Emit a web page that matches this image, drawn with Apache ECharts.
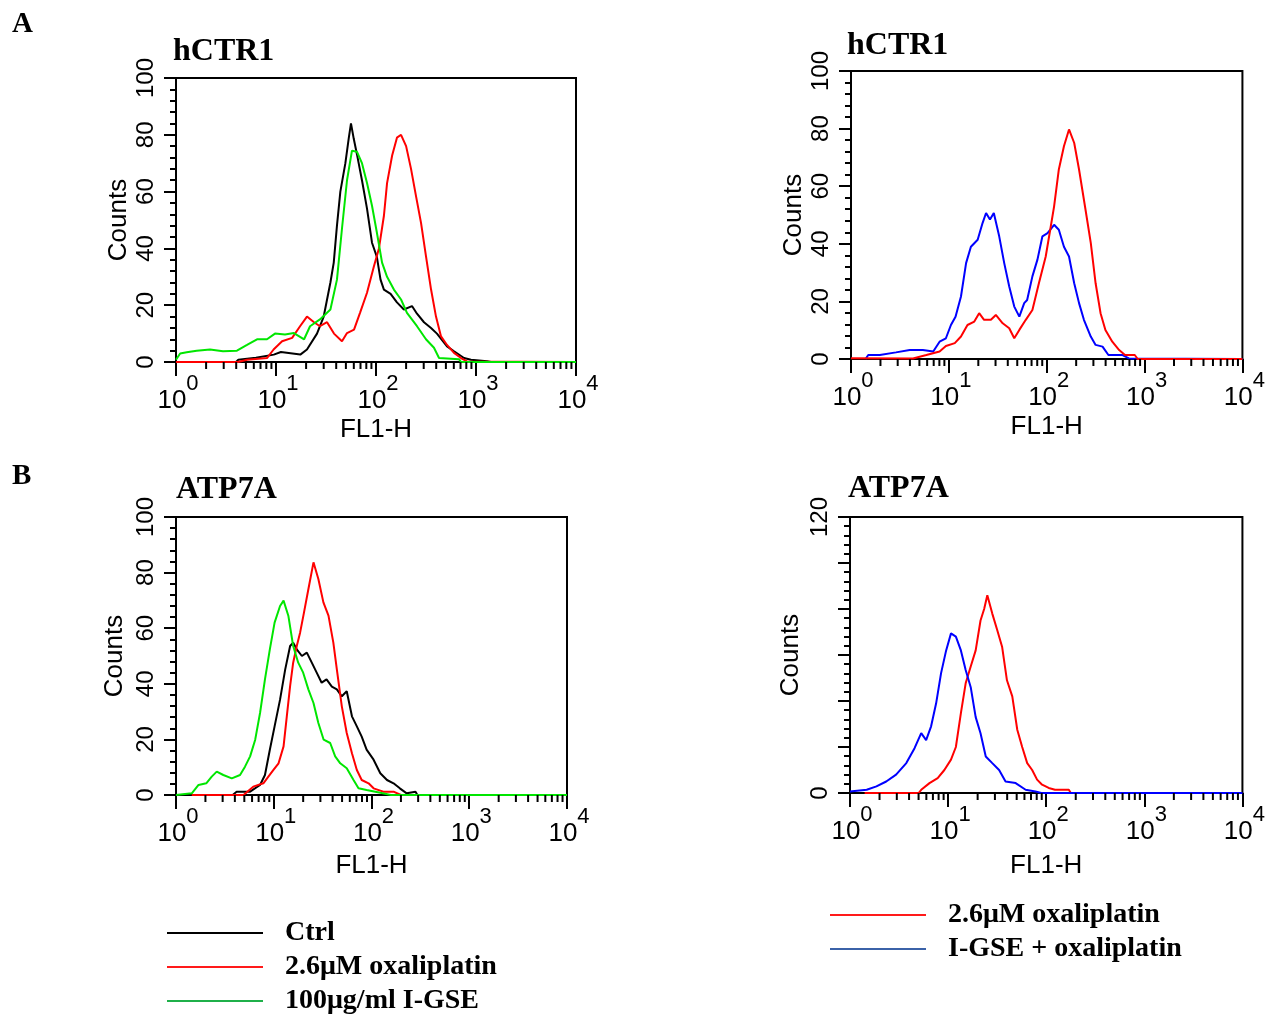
<!DOCTYPE html>
<html>
<head>
<meta charset="utf-8">
<script src="https://cdn.jsdelivr.net/npm/echarts@6/dist/echarts.min.js"></script>
<style>html,body{margin:0;padding:0;background:#fff;}#c{width:1268px;height:1015px;}</style>
</head>
<body>
<div id="c"></div>
<script>
// ---------- DATA: [FL1-H, Counts] ----------
// Panel A left (hCTR1)
var hctr1L_ctrl = [[1,0],[3.98,0],[4.2,0.8],[6.3,1.5],[9.5,2.6],[11.2,3.5],[17.5,2.6],[20.4,4.4],[25.7,10],[30,16],[35,28],[37.8,35],[40.7,48],[44,60],[49.4,70],[53.5,79],[56.2,84],[60,78.5],[64.6,73],[72.4,64],[81.3,54],[91.2,42],[102,37],[111,29],[120,25.5],[140,24],[162,21],[190,18.5],[229,19.7],[257,17],[302,14],[355,12],[407,10],[513,5.5],[603,3.8],[759,1.4],[891,0.8],[1288,0.3],[1413,0],[10000,0]];
var hctr1L_oxa = [[1,0],[4.17,0],[5.13,0.8],[8.13,1.4],[9.46,4.4],[11.5,7.3],[14.5,8.5],[17.4,12.6],[20.4,16],[24,14],[27.5,12.6],[32.4,14],[38,10],[45.7,7.3],[51.3,10.2],[60.3,11.4],[69.2,17.3],[81.3,24.4],[95.5,33.8],[107,40],[120,51.5],[129,63],[145,72.7],[162,79],[178,80],[200,76],[224,68],[251,58.5],[282,49],[316,37.3],[355,25.6],[398,16],[447,9],[513,6],[603,3.2],[708,1.4],[813,0.2],[10000,0]];
var hctr1L_gse = [[1,0.8],[1.1,3],[1.28,3.4],[1.61,4],[2.19,4.4],[2.95,3.8],[4.07,4],[5.13,6],[6.46,8],[8.13,8],[9.77,10],[12.3,9.7],[15.1,10.2],[19.1,8],[21.9,12.6],[27.5,15],[35,18.5],[40.7,29],[45.7,47],[51.3,64],[57.5,74.4],[64.6,74],[72.4,70],[81.3,63],[91.2,55],[102,45.6],[115,35],[129,30],[151,25.5],[178,22],[204,17.3],[257,12.6],[316,8],[380,5],[427,1.4],[676,1],[708,0],[10000,0]];
// Panel A right (hCTR1)
var hctr1R_gseOxa = [[1.41,0],[1.5,1.4],[1.97,1.4],[2.88,2.3],[3.98,3.1],[5.43,3.1],[6.92,2.6],[8.04,6],[9.33,7.2],[10.5,11.8],[11.7,14.7],[13.3,21.7],[15,33.3],[16.8,39],[19.7,41.4],[22.1,47.2],[24,50.7],[26.3,48.4],[28.8,50.7],[32.7,42.6],[36.8,33.3],[41.4,25.2],[46.6,18.2],[52.5,14.7],[58.9,19.4],[63.1,20.5],[71.4,28.7],[80.4,34.5],[90.4,42.6],[102,43.7],[119,46.6],[133,44.9],[150,39],[169,35.6],[191,26.3],[214,19.4],[240,13.6],[282,7.8],[316,4.9],[372,4.3],[427,1.4],[589,1.4],[692,0.2],[10000,0]];
var hctr1R_oxa = [[1,0.3],[4.3,0.2],[5.89,1.4],[8.04,2.6],[9.33,4.5],[11.5,5.5],[13.3,7.8],[15.5,11.8],[18.2,13],[20.4,15.9],[22.9,13.6],[26.9,13.6],[30.2,15.3],[35.5,12.4],[41.4,10.7],[46.6,7.2],[52.5,10.1],[61.1,13.6],[71.4,17],[83.2,26.3],[97.7,35.6],[110,46],[119,53],[133,65.8],[150,73.9],[169,79.7],[191,75],[214,65.8],[249,51.9],[282,40.3],[316,26.3],[355,15.9],[398,10.1],[468,6],[550,3.1],[631,1.4],[794,1.4],[851,0],[10000,0]];
// Panel B left (ATP7A)
var atp7aL_ctrl = [[3.8,0],[4.17,1.2],[5.73,1.2],[7.24,3.6],[8.13,7.2],[9.12,16.3],[10.2,24.7],[11.6,34.3],[13.1,45.2],[14.7,53.6],[15.8,54.8],[17.2,52.4],[19.4,50],[21.8,51.2],[24.5,47.6],[27.5,44],[30.9,40.4],[34.7,41.6],[39.3,39],[44.2,38],[49.7,35.5],[55.8,37.3],[63.1,28.3],[70.8,24.7],[79.4,21],[89.1,16.3],[105,12.7],[123,7.8],[144,5.4],[168,4.2],[195,2.4],[229,0.6],[282,1.2],[295,0]];
var atp7aL_oxa = [[1.45,0],[4.9,0],[6.17,3],[7.83,4.2],[8.81,6.6],[9.93,9],[11.2,11.4],[12.6,17.5],[13.6,28.3],[14.7,39.2],[15.8,47.6],[17.2,53.6],[18.6,58.4],[20.4,65.7],[22.6,74],[25.5,83.7],[28.6,77.7],[32.2,69.3],[36.3,64.5],[40.7,54.8],[44.2,45.2],[49.7,31.9],[55.8,22.3],[63.1,15],[70.8,9],[79.4,5.4],[93.3,4.2],[105,2.4],[132,1.2],[168,1.2],[200,0]];
var atp7aL_gse = [[1,0],[1.45,0.6],[1.7,3.6],[2.04,4.2],[2.32,6.6],[2.61,8.4],[3.05,7.2],[3.72,6],[4.52,7.2],[5.08,10.2],[5.73,13.9],[6.46,19.9],[7.24,29.5],[8.13,41.6],[9.12,52.4],[10.2,62],[11.6,68],[12.6,69.9],[14.1,64.5],[15.8,53.6],[17.8,47.6],[20,44],[22.6,38],[25.5,33.1],[28.6,25.9],[32.4,19.9],[37.8,18.7],[42.5,13.9],[47.9,11.4],[55.8,9.6],[65.5,5.4],[73.6,2.4],[89.1,1.8],[123,0.8],[158,0],[10000,0]];
// Panel B right (ATP7A)
var atp7aR_oxa = [[1.41,0],[5.01,0],[5.32,1.4],[6.46,4.3],[7.83,6.5],[9.16,10],[10.7,14.5],[12,20],[13.5,34.7],[15.1,47.7],[17,55],[19.1,62],[21.4,75],[23.3,80],[25.1,86],[28.2,78],[31.6,71],[35.5,63.6],[39.8,49],[45.1,42],[50.7,27.5],[56.9,20],[64,13],[71.9,10],[80.7,5.8],[90.8,3.6],[106,2.2],[123,1.4],[170,1.4],[178,0]];
var atp7aR_gseOxa = [[1,0.7],[1.48,1.4],[1.86,2.9],[2.34,5],[2.95,8],[3.75,13],[4.55,19.5],[5.32,26],[5.97,23],[6.71,29],[7.55,39],[8.47,52],[9.55,62],[10.7,69.4],[12,68],[13.5,62],[15.1,53.5],[17,46],[19.1,33],[21.4,26],[24.2,15.9],[28.2,13],[33.1,10],[38.5,5],[48.8,4.3],[61.7,1.4],[77.6,0.7],[89,0],[10000,0]];

var panelTitles = ['hCTR1', 'hCTR1', 'ATP7A', 'ATP7A'];
var sectionLabels = ['A', 'B'];
var yMaxes = [100, 100, 100, 120];
var yLabelShown = [[0,20,40,60,80,100],[0,20,40,60,80,100],[0,20,40,60,80,100],[0,120]];
var minorTickValues = [2,3,4,5,6,7,8,9,20,30,40,50,60,70,80,90,200,300,400,500,600,700,800,900,2000,3000,4000,5000,6000,7000,8000,9000];
var legendLeftNames = ['Ctrl', '2.6μM oxaliplatin', '100μg/ml I-GSE'];
var legendRightNames = ['2.6μM oxaliplatin', 'I-GSE + oxaliplatin'];

// ---------- STYLE ----------
var C_BLACK = '#000000', C_RED = '#ff0000', C_GREEN = '#00e600', C_BLUE = '#0000ff';
var SANS = '"Liberation Sans", Arial, sans-serif';
var SERIF = '"Liberation Serif", "Times New Roman", serif';

var grids = [
  {left: 176, top: 78, width: 400, height: 284},
  {left: 851, top: 71, width: 393, height: 288},
  {left: 176, top: 517, width: 391, height: 278},
  {left: 850, top: 517, width: 395, height: 276}
];
var xNameGaps = [55, 55, 58, 60];
var yNameGaps = [44, 44, 48, 46];

var xAxes = [], yAxes = [];
grids.forEach(function (g, i) {
  g.show = true; g.borderColor = '#000'; g.borderWidth = 2; g.backgroundColor = 'transparent';
  xAxes.push({
    gridIndex: i, type: 'log', logBase: 10, min: 1, max: 10000,
    name: 'FL1-H', nameLocation: 'middle', nameGap: xNameGaps[i],
    nameTextStyle: {fontFamily: SANS, fontSize: 26, color: '#000'},
    axisLine: {show: true, lineStyle: {color: '#000', width: 2}},
    axisTick: {show: true, length: 14, lineStyle: {color: '#000', width: 2}},
    splitLine: {show: false},
    axisLabel: {
      margin: 11, color: '#000', fontFamily: SANS,
      formatter: function (v) { return '{n|10}{s|' + Math.round(Math.log10(v)) + '}'; },
      rich: {
        n: {fontSize: 26, fontFamily: SANS, color: '#000', padding: [15, 0, 0, 4]},
        s: {fontSize: 22, fontFamily: SANS, color: '#000', verticalAlign: 'top'}
      }
    }
  });
  var shown = yLabelShown[i];
  yAxes.push({
    gridIndex: i, type: 'value', min: 0, max: yMaxes[i], interval: 20,
    name: 'Counts', nameLocation: 'middle', nameGap: yNameGaps[i], nameRotate: 90,
    nameTextStyle: {fontFamily: SANS, fontSize: 26, color: '#000'},
    axisLine: {show: true, lineStyle: {color: '#000', width: 2}},
    axisTick: {show: true, length: 12, lineStyle: {color: '#000', width: 2}},
    minorTick: {show: true, splitNumber: 5, length: 6, lineStyle: {color: '#000', width: 2}},
    splitLine: {show: false},
    axisLabel: {
      rotate: 90, margin: 18, color: '#000', fontFamily: SANS, fontSize: 24,
      formatter: function (v) { return shown.indexOf(v) >= 0 ? String(v) : ''; }
    }
  });
});

function lineSeries(name, data, idx, color) {
  return {
    name: name, type: 'line', xAxisIndex: idx, yAxisIndex: idx, data: data,
    showSymbol: false, symbol: 'none', animation: false, z: 5,
    lineStyle: {color: color, width: 2}, itemStyle: {color: color}, clip: false
  };
}
function minorTickSeries(idx) {
  return {
    type: 'custom', xAxisIndex: idx, yAxisIndex: idx, silent: true, animation: false, clip: false, z: 6,
    data: minorTickValues.map(function (v) { return [v, 0]; }),
    renderItem: function (params, api) {
      var p = api.coord([api.value(0), 0]);
      return {type: 'line', shape: {x1: p[0], y1: p[1], x2: p[0], y2: p[1] + 7}, style: {stroke: '#000', lineWidth: 2}};
    }
  };
}

var series = [
  lineSeries('Ctrl', hctr1L_ctrl, 0, C_BLACK),
  lineSeries('2.6μM oxaliplatin', hctr1L_oxa, 0, C_RED),
  lineSeries('100μg/ml I-GSE', hctr1L_gse, 0, C_GREEN),
  lineSeries('I-GSE + oxaliplatin', hctr1R_gseOxa, 1, C_BLUE),
  lineSeries('2.6μM oxaliplatin', hctr1R_oxa, 1, C_RED),
  lineSeries('Ctrl', atp7aL_ctrl, 2, C_BLACK),
  lineSeries('2.6μM oxaliplatin', atp7aL_oxa, 2, C_RED),
  lineSeries('100μg/ml I-GSE', atp7aL_gse, 2, C_GREEN),
  lineSeries('2.6μM oxaliplatin', atp7aR_oxa, 3, C_RED),
  lineSeries('I-GSE + oxaliplatin', atp7aR_gseOxa, 3, C_BLUE),
  minorTickSeries(0), minorTickSeries(1), minorTickSeries(2), minorTickSeries(3)
];

var titleStyle = {fontFamily: SERIF, fontWeight: 'bold', fontSize: 32, color: '#000'};
var secStyle = {fontFamily: SERIF, fontWeight: 'bold', fontSize: 29, color: '#000'};
var titles = [
  {text: panelTitles[0], left: 173, top: 36, textStyle: titleStyle, padding: 0},
  {text: panelTitles[1], left: 847, top: 30, textStyle: titleStyle, padding: 0},
  {text: panelTitles[2], left: 176, top: 474, textStyle: titleStyle, padding: 0},
  {text: panelTitles[3], left: 848, top: 473, textStyle: titleStyle, padding: 0},
  {text: sectionLabels[0], left: 12, top: 10, textStyle: secStyle, padding: 0},
  {text: sectionLabels[1], left: 12, top: 462, textStyle: secStyle, padding: 0}
];

var legendText = {fontFamily: SERIF, fontWeight: 'bold', fontSize: 28, color: '#000', padding: [0, 0, 0, 17]};
var legendColors = {'Ctrl': '#000000', '2.6μM oxaliplatin': '#ff1a1a', '100μg/ml I-GSE': '#1fb04a', 'I-GSE + oxaliplatin': '#3b62a8'};
function legendData(names) { return names.map(function (n) { return {name: n, itemStyle: {color: legendColors[n]}}; }); }

var option = {
  backgroundColor: '#fff',
  animation: false,
  title: titles,
  grid: grids,
  xAxis: xAxes,
  yAxis: yAxes,
  legend: [
    {data: legendData(legendLeftNames), orient: 'vertical', left: 167, top: 919, height: 200, padding: 0, itemGap: 6,
     itemWidth: 96, itemHeight: 2, icon: 'rect', selectedMode: false, textStyle: legendText},
    {data: legendData(legendRightNames), orient: 'vertical', left: 830, top: 901, height: 200, padding: 0, itemGap: 6,
     itemWidth: 96, itemHeight: 2, icon: 'rect', selectedMode: false, textStyle: legendText}
  ],
  series: series
};

var chart = echarts.init(document.getElementById('c'), null, {renderer: 'canvas'});
chart.setOption(option);
</script>
</body>
</html>
